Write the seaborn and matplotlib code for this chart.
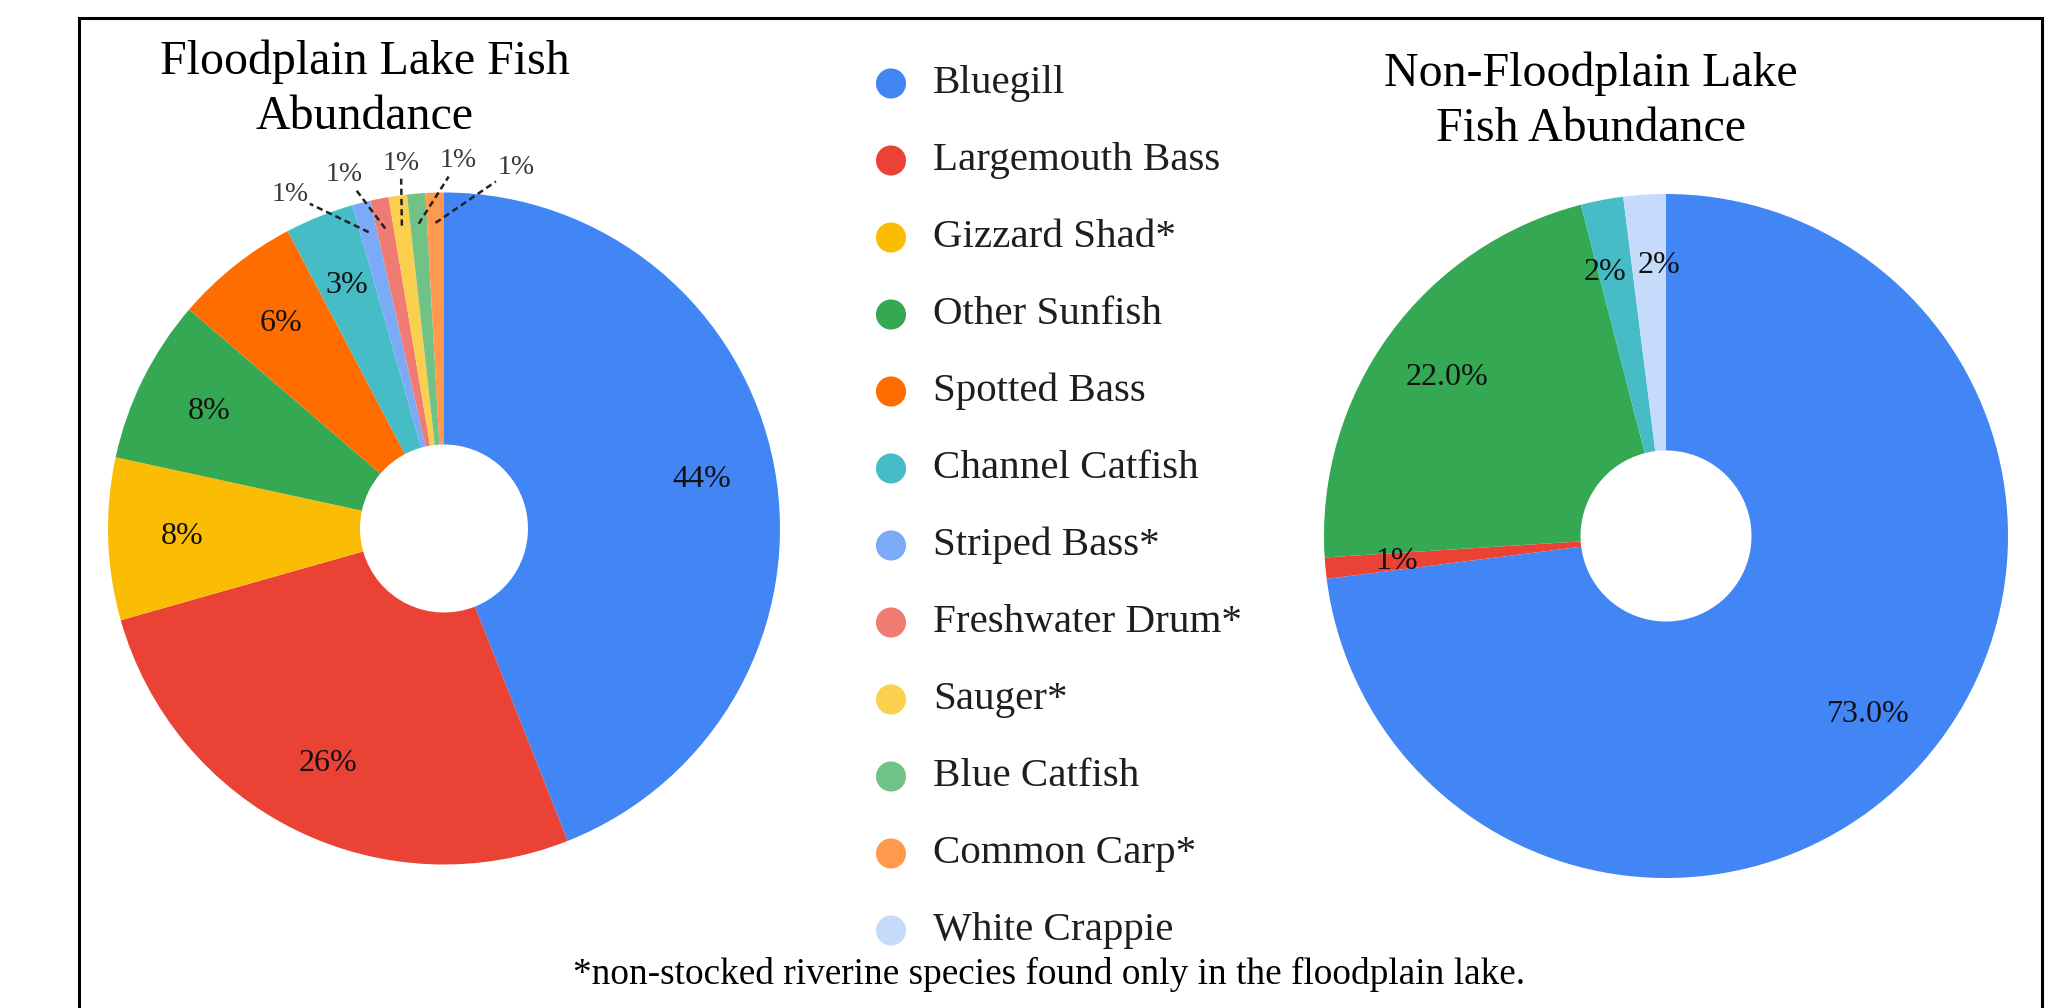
import numpy as np
import matplotlib
matplotlib.use("Agg")
import matplotlib.pyplot as plt
import seaborn as sns
import pandas as pd

# ---------------- data ----------------
species = ["Bluegill", "Largemouth Bass", "Gizzard Shad*", "Other Sunfish",
           "Spotted Bass", "Channel Catfish", "Striped Bass*", "Freshwater Drum*",
           "Sauger*", "Blue Catfish", "Common Carp*", "White Crappie"]
species_colors = ["#4285F4", "#EA4335", "#FBBC04", "#34A853", "#FF6D01", "#46BDC6",
                  "#7BAAF7", "#F07B72", "#FCD04F", "#71C287", "#FF994D", "#C6DAFC"]

flood_species = ["Bluegill", "Largemouth Bass", "Gizzard Shad*", "Other Sunfish",
                 "Spotted Bass", "Channel Catfish", "Striped Bass*", "Freshwater Drum*",
                 "Sauger*", "Blue Catfish", "Common Carp*"]
flood_values = [44.0, 26.6, 7.8, 7.9, 6.0, 3.3, 0.88, 0.88, 0.88, 0.88, 0.88]
flood_labels = ["44%", "26%", "8%", "8%", "6%", "3%", "1%", "1%", "1%", "1%", "1%"]

nonflood_species = ["Bluegill", "Largemouth Bass", "Other Sunfish", "Channel Catfish",
                    "White Crappie"]
nonflood_values = [73.0, 1.0, 22.0, 2.0, 2.0]
nonflood_labels = ["73.0%", "1%", "22.0%", "2%", "2%"]

title_flood = "Floodplain Lake Fish\nAbundance"
title_nonflood = "Non-Floodplain Lake\nFish Abundance"
footnote = "*non-stocked riverine species found only in the floodplain lake."

# ---------------- style ----------------
sns.set_theme(style="white")
plt.rcParams["font.family"] = ["Liberation Serif", "DejaVu Serif"]
color_of = dict(zip(species, species_colors))

W, H = 2046, 1008
fig = plt.figure(figsize=(W / 100, H / 100), dpi=100)
fig.patch.set_facecolor("white")


def px_axes(cx, cy, half):
    return fig.add_axes([(cx - half) / W, (H - cy - half) / H, 2 * half / W, 2 * half / H])


LIM = 1.25
MIN_SEP = 11.5  # degrees between neighbouring inside labels


def donut(ax, names, values, labels, inside_r, small_thresh=None):
    cols = [color_of[n] for n in names]
    wedges, _ = ax.pie(values, colors=cols, startangle=90, counterclock=False,
                       radius=1.0, wedgeprops=dict(width=0.75, linewidth=0))
    ax.set_xlim(-LIM, LIM)
    ax.set_ylim(-LIM, LIM)
    ax.set_aspect("equal")
    ax.axis("off")
    small, inside = [], []
    for w, lab, v in zip(wedges, labels, values):
        mid = (w.theta1 + w.theta2) / 2
        if small_thresh is not None and v < small_thresh:
            small.append((np.deg2rad(mid), lab))
        else:
            inside.append([mid, lab])
    # spread neighbouring inside labels that would collide
    for i in range(len(inside) - 1):
        a, b = inside[i][0], inside[i + 1][0]
        gap = abs(a - b)
        if gap < MIN_SEP:
            push = (MIN_SEP - gap) / 2
            sgn = 1 if a > b else -1
            inside[i][0] = a + sgn * push
            inside[i + 1][0] = b - sgn * push
    for mid, lab in inside:
        m = np.deg2rad(mid)
        ax.text(inside_r * np.cos(m), inside_r * np.sin(m), lab,
                ha="center", va="center", fontsize=23, color="#111111")
    return small


# left donut
axL = px_axes(444, 528.5, 336 * LIM)
small = donut(axL, flood_species, flood_values, flood_labels, 0.78, small_thresh=2)
if small:
    mids_cw = [((90 - np.rad2deg(m)) + 180) % 360 - 180 for m, _ in small]
    n = len(small)
    centre = np.mean(mids_cw) + 1.2
    for i, ((m, lab), mcw) in enumerate(zip(small, mids_cw)):
        la = np.deg2rad(centre + 9.0 * (i - (n - 1) / 2))
        L = 1.095 * np.array([np.sin(la), np.cos(la)])
        E = 0.91 * np.array([np.cos(m), np.sin(m)])
        S = E + 0.75 * (L - E)
        axL.plot([E[0], S[0]], [E[1], S[1]], color="#222222", lw=1.8,
                 linestyle=(0, (2.5, 1.6)))
        axL.text(L[0], L[1], lab, ha="center", va="center", fontsize=20, color="#3a3a3a")

# right donut
axR = px_axes(1666, 536, 342 * LIM)
donut(axR, nonflood_species, nonflood_values, nonflood_labels, 0.79)

# legend column
axG = fig.add_axes([860 / W, (H - 969) / H, 440 / W, 924 / H])
leg_df = pd.DataFrame({"x": [31] * len(species), "y": np.arange(len(species)),
                       "species": species})
sns.scatterplot(data=leg_df, x="x", y="y", hue="species", palette=color_of,
                s=470, linewidth=0, legend=False, ax=axG)
axG.set_xlim(0, 440)
axG.set_ylim(len(species) - 0.5, -0.5)
axG.axis("off")
for i, name in enumerate(species):
    axG.text(73, i, name, ha="left", va="center", fontsize=29.5, color="#1e1e1e")

# titles
fig.text(365 / W, 1 - 89.5 / H, title_flood, ha="center", va="center",
         fontsize=34.5, linespacing=1.33, color="black")
fig.text(1591 / W, 1 - 101.5 / H, title_nonflood, ha="center", va="center",
         fontsize=34.5, linespacing=1.33, color="black")

# footnote
fig.text(1049 / W, 1 - 974 / H, footnote, ha="center", va="center",
         fontsize=26.8, color="black")

# frame
fig.add_artist(plt.Rectangle((79 / W, -0.05), (2042 - 79) / W, 1.05 - 18 / H,
                             transform=fig.transFigure, fill=False,
                             edgecolor="black", linewidth=2.2))

fig.savefig("out.png", dpi=100, facecolor="white")
